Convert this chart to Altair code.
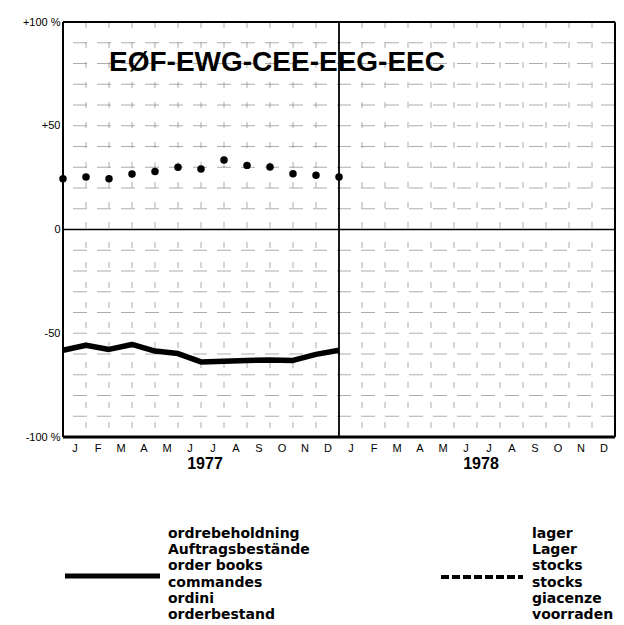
import altair as alt
import pandas as pd

# ---- data ----
boundaries_1977 = list(range(13))          # month boundaries Jan 1977 .. Jan 1978
stocks = [24.5, 25.3, 24.5, 26.8, 28.0, 30.0, 29.2, 33.5, 30.9, 30.1, 26.9, 26.1, 25.3]
orders = [-58.2, -55.8, -57.8, -55.4, -58.6, -59.8, -63.8, -63.5, -63.1, -62.9, -63.1, -60.2, -58.2]
month_letters = ["J", "F", "M", "A", "M", "J", "J", "A", "S", "O", "N", "D"]
years = ["1977", "1978"]
year_mid = [6, 18]
y_ticks = [-100, -50, 0, 50, 100]
y_tick_labels = ["-100 %", "-50", "0", "+50", "+100 %"]
grid_y = [v for v in range(-90, 100, 10) if v != 0]
grid_x = [m for m in range(1, 24) if m != 12]
title_text = "EØF-EWG-CEE-EEG-EEC"
legend_orders = ["ordrebeholdning", "Auftragsbestände", "order books", "commandes", "ordini", "orderbestand"]
legend_stocks = ["lager", "Lager", "stocks", "stocks", "giacenze", "voorraden"]

W, H = 552, 415
FONT = "Liberation Sans"
LFONT = "DejaVu Sans"

xs = alt.Scale(domain=[0, 24], nice=False, zero=False)
ys = alt.Scale(domain=[-100, 100], nice=False, zero=False)

y_expr = " : ".join(f"datum.value == {v} ? '{l}'" for v, l in zip(y_ticks, y_tick_labels)) + " : ''"
m_expr = "[" + ",".join(f"'{m}'" for m in month_letters) + "][floor(datum.value) % 12]"

x_axis = alt.Axis(values=[i + 0.5 for i in range(24)], labelExpr=m_expr, title=None,
                  domain=False, ticks=False, grid=False, labelFont=FONT, labelFontSize=11,
                  labelColor="black", labelPadding=5, labelAngle=0)
y_axis = alt.Axis(values=y_ticks, labelExpr=y_expr, title=None, domain=False, ticks=False,
                  grid=False, labelFont=FONT, labelFontSize=11, labelColor="black", labelPadding=3)


def X(field):
    return alt.X(f"{field}:Q", scale=xs, axis=x_axis)


def Y(field):
    return alt.Y(f"{field}:Q", scale=ys, axis=y_axis)


df_stocks = pd.DataFrame({"m": boundaries_1977, "v": stocks})
df_orders = pd.DataFrame({"m": boundaries_1977, "v": orders})

grid_h = alt.Chart(pd.DataFrame({"v": grid_y})).mark_rule(
    color="#777", strokeWidth=0.8, strokeDash=[14, 10], opacity=0.75
).encode(y=Y("v"))
grid_v = alt.Chart(pd.DataFrame({"m": grid_x})).mark_rule(
    color="#777", strokeWidth=0.8, strokeDash=[6, 14], opacity=0.75
).encode(x=X("m"))

zero_line = alt.Chart(pd.DataFrame({"v": [0]})).mark_rule(color="black", strokeWidth=1.5).encode(y=Y("v"))
divider = alt.Chart(pd.DataFrame({"m": [12]})).mark_rule(color="black", strokeWidth=1.8).encode(x=X("m"))
frame_h = alt.Chart(pd.DataFrame({"v": [100]})).mark_rule(color="black", strokeWidth=2).encode(y=Y("v"))
frame_v = alt.Chart(pd.DataFrame({"m": [0, 24]})).mark_rule(color="black", strokeWidth=2).encode(x=X("m"))
bottom = alt.Chart(pd.DataFrame({"v": [-100]})).mark_rule(color="black", strokeWidth=3).encode(y=Y("v"))

orders_line = alt.Chart(df_orders).mark_line(color="black", strokeWidth=5.5, strokeJoin="round").encode(
    x=X("m"), y=Y("v"))
stocks_dots = alt.Chart(df_stocks).mark_circle(color="black", size=56, opacity=1).encode(
    x=X("m"), y=Y("v"))

year_text = alt.Chart(pd.DataFrame({"m": year_mid, "t": years})).mark_text(
    font=FONT, fontSize=16, fontWeight="bold", color="black", baseline="middle", dx=4
).encode(x=X("m"), y=alt.value(H + 27), text="t:N")

title_mark = alt.Chart(pd.DataFrame({"t": [title_text]})).mark_text(
    font=FONT, fontSize=28, fontWeight="bold", color="black", baseline="middle", align="center"
).encode(x=alt.value(214), y=alt.value(41), text="t:N")

leg_solid = alt.Chart(pd.DataFrame({"a": [0]})).mark_rule(color="black", strokeWidth=5).encode(
    x=alt.value(2), x2=alt.value(97), y=alt.value(554))
leg_dash = alt.Chart(pd.DataFrame({"a": [0]})).mark_rule(color="black", strokeWidth=4, strokeDash=[8, 3]).encode(
    x=alt.value(378), x2=alt.value(460), y=alt.value(555))
leg_text1 = alt.Chart(pd.DataFrame({"t": ["\n".join(legend_orders)]})).mark_text(
    font=LFONT, fontSize=14, fontWeight="bold", color="black", align="left", baseline="top",
    lineBreak="\n", lineHeight=16.2
).encode(x=alt.value(105), y=alt.value(505), text="t:N")
leg_text2 = alt.Chart(pd.DataFrame({"t": ["\n".join(legend_stocks)]})).mark_text(
    font=LFONT, fontSize=14, fontWeight="bold", color="black", align="left", baseline="top",
    lineBreak="\n", lineHeight=16.2
).encode(x=alt.value(469), y=alt.value(505), text="t:N")

chart = alt.layer(
    grid_h, grid_v, zero_line, divider, frame_h, frame_v, bottom, orders_line, stocks_dots,
    year_text, title_mark, leg_solid, leg_dash, leg_text1, leg_text2
).properties(
    width=W, height=H,
    autosize=alt.AutoSizeParams(type="none"),
    padding={"left": 55, "top": 14, "right": 1, "bottom": 185},
).configure_view(
    stroke=None
).configure(background="white")

chart.save("out.html", embed_options={"renderer": "svg", "actions": False})
